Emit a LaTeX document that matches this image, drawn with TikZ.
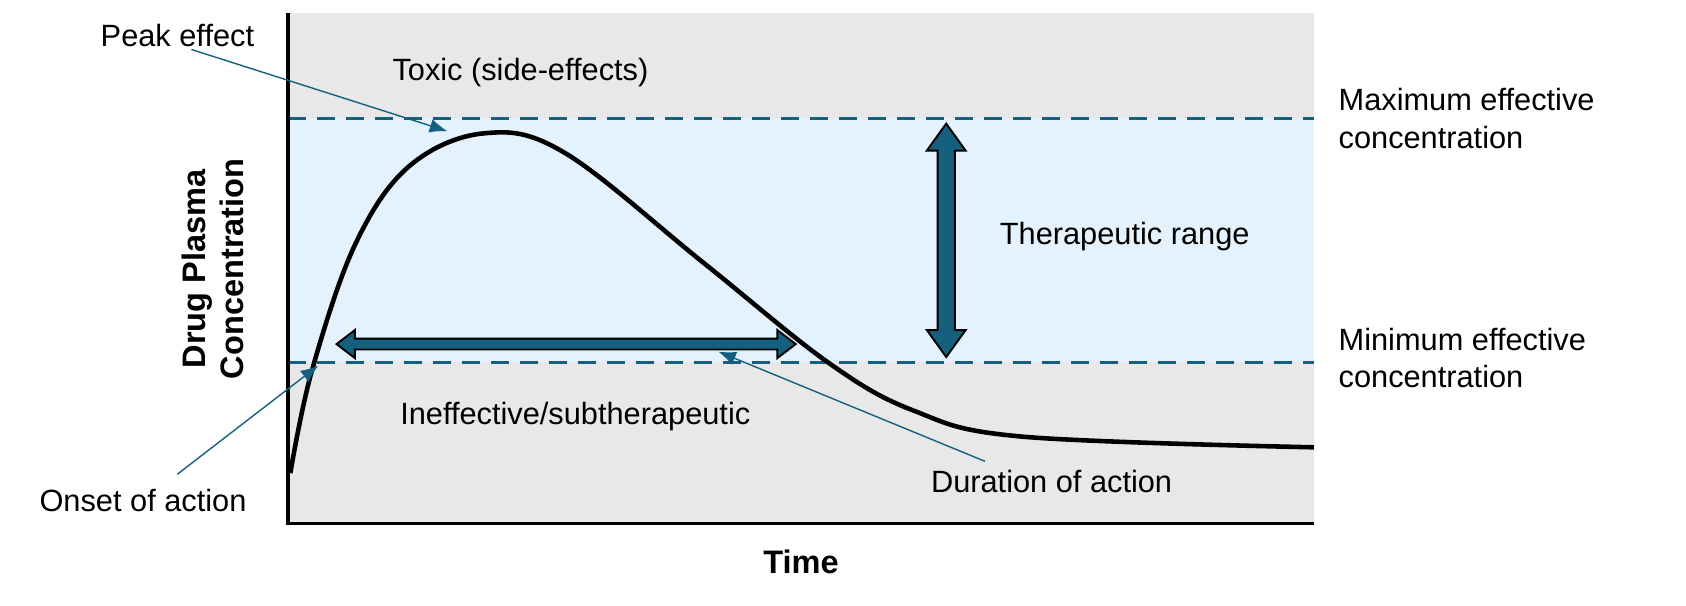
\documentclass[tikz,border=0pt]{standalone}
\usepackage{fontspec}
\setmainfont{Liberation Sans}
\usetikzlibrary{arrows.meta}
\definecolor{bandblue}{HTML}{E4F2FD}
\definecolor{bggray}{HTML}{E8E8E8}
\definecolor{teal}{HTML}{16607F}
\tikzset{
  lbl/.style={font=\fontsize{17.5}{21.5}\selectfont, inner sep=1pt},
  pointer/.style={teal, line width=0.8pt, -{Latex[length=10pt,width=8pt]}},
  limit/.style={teal, line width=2pt, dash pattern=on 10pt off 6.5pt},
  bigarrow/.style={fill=teal, draw=black, line width=1.1pt, line join=miter}
}
\begin{document}
\begin{tikzpicture}[x=0.0215cm, y=-0.0215cm]
  \useasboundingbox (0,0) rectangle (1568,563);
  % background regions
  \fill[bggray] (268,12) rectangle (1222,487);
  \fill[bandblue] (268,110) rectangle (1222,337);
  \draw[limit] (268,110) -- (1222,110);
  \draw[limit] (268,337) -- (1222,337);
  % axes
  \draw[line width=2pt] (268,12) -- (268,487) -- (1222,487);
  % concentration curve
  \draw[line width=2.6pt] plot[smooth, tension=0.6] coordinates {(270,440) (290,345) (330,228) (380,155) (450,124) (525,142) (655,245) (770,337) (850,382) (950,406) (1222,416)};
  % duration arrow
  \def\dy{320}
  \draw[bigarrow] (313,\dy) -- (330,\dy-13) -- (330,\dy-5) -- (723,\dy-5) -- (723,\dy-13) -- (740,\dy)
    -- (723,\dy+13) -- (723,\dy+5) -- (330,\dy+5) -- (330,\dy+13) -- cycle;
  % therapeutic range arrow
  \def\ax{880}
  \draw[bigarrow] (\ax,115) -- (\ax+18,140) -- (\ax+8,140) -- (\ax+8,307) -- (\ax+18,307) -- (\ax,332)
    -- (\ax-18,307) -- (\ax-8,307) -- (\ax-8,140) -- (\ax-18,140) -- cycle;
  % labels
  \node[lbl] (toxic) at (484,67) {Toxic (side-effects)};
  \node[lbl] (inef) at (535,387) {Ineffective/subtherapeutic};
  \node[lbl] (range) at (1046,220) {Therapeutic range};
  \node[lbl, anchor=west, align=left] (maxc) at (1243,110) {Maximum effective\\concentration};
  \node[lbl, anchor=west, align=left] (minc) at (1243,333) {Minimum effective\\concentration};
  \node[lbl] (peak) at (165,33) {Peak effect};
  \node[lbl] (onset) at (133,465) {Onset of action};
  \node[lbl] (dur) at (978,448) {Duration of action};
  \node[lbl, font=\fontsize{18.5}{22}\selectfont\bfseries, rotate=90, align=center] (ylab) at (198,250) {Drug Plasma\\Concentration};
  \node[lbl, font=\fontsize{18.5}{22}\selectfont\bfseries] (xlab) at (745,523) {Time};
  % pointers
  \coordinate (peakpt) at (416,122);
  \coordinate (onsetpt) at (296,340);
  \coordinate (durpt) at (668,327);
  \draw[pointer] (178,46) -- (peakpt);
  \draw[pointer] (165,441) -- (onsetpt);
  \draw[pointer] (916,429) -- (durpt);
\end{tikzpicture}
\end{document}
